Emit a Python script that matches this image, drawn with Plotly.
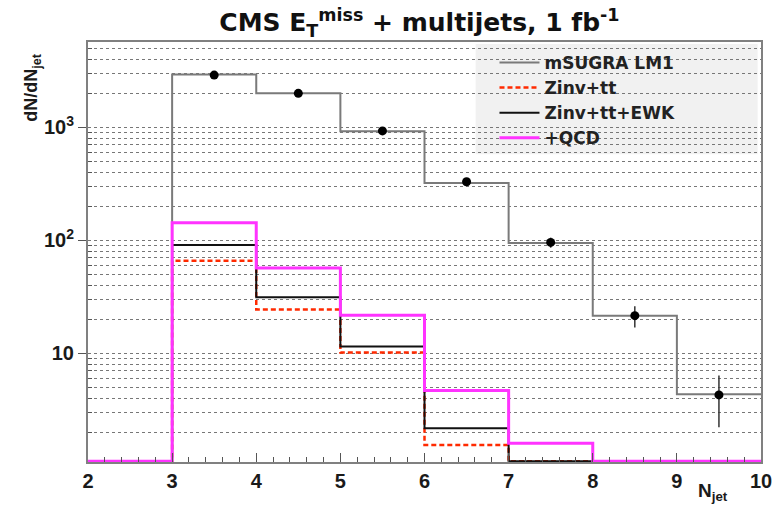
import plotly.graph_objects as go

# ---- data ----
bin_edges = [2, 3, 4, 5, 6, 7, 8, 9, 10]
bin_centers = [3.5, 4.5, 5.5, 6.5, 7.5, 8.5, 9.5]
msugra = [0, 2930, 2000, 925, 322, 95, 21.6, 4.35]
zinv_tt = [0, 66, 24.5, 10.2, 1.55, 0, 0, 0]
zinv_tt_ewk = [0, 91, 31.5, 11.5, 2.18, 0, 0, 0]
plus_qcd = [0, 143, 57, 21.8, 4.7, 1.61, 0, 0]
data_y = [2900, 2000, 930, 330, 96, 21.6, 4.3]
data_err = [54, 45, 30, 18, 9.8, 4.6, 2.07]
y_tickvals = [10, 100, 1000]
y_ticktext = ["10", "10<sup>2</sup>", "10<sup>3</sup>"]
x_tickvals = [2, 3, 4, 5, 6, 7, 8, 9, 10]

ylog_min, ylog_max = 0.04, 3.755
floor = 10 ** (ylog_min + 0.006)


def step(vals):
    v = [max(a, floor) for a in vals]
    return bin_edges, v + [v[-1]]


FONT = "Liberation Sans, Arial, Helvetica, sans-serif"
WIDE = "DejaVu Sans, Liberation Sans, sans-serif"
fig = go.Figure()

series = [
    ("mSUGRA LM1", msugra, dict(color="#7a7a7a", width=2)),
    ("Zinv+tt", zinv_tt, dict(color="#ff2a00", width=2.5, dash="5px,3px")),
    ("Zinv+tt+EWK", zinv_tt_ewk, dict(color="#111111", width=2)),
    ("+QCD", plus_qcd, dict(color="#ff33ff", width=3)),
]
for i, (name, vals, ln) in enumerate(series):
    xs, ys = step(vals)
    fig.add_trace(go.Scatter(x=xs, y=ys, mode="lines", line_shape="hv",
                             line=ln, name="<b>%s</b>" % name))
    if i == 0:
        fig.add_trace(go.Scatter(x=bin_centers, y=data_y, mode="markers",
                                 marker=dict(color="black", size=9),
                                 error_y=dict(type="data", array=data_err,
                                              color="#333", thickness=1.5, width=0),
                                 showlegend=False))

grid_minor = []
for d in [1, 10, 100, 1000]:
    for k in range(2, 10):
        grid_minor.append(k * d)

fig.update_layout(
    width=784, height=505,
    margin=dict(l=88, r=16, t=42, b=43),
    paper_bgcolor="white", plot_bgcolor="white",
    font=dict(family=FONT, color="#1a1a1a", size=18),
    title=dict(text="<b>CMS E<sub>T</sub><sup>miss</sup> + multijets, 1 fb<sup>-1</sup></b>",
               x=0.535, xanchor="center", y=0.955, yanchor="middle",
               font=dict(size=25, color="#111", family=WIDE)),
    showlegend=True,
    legend=dict(x=0.604, y=0.993, xanchor="left", yanchor="top",
                bgcolor="rgba(0,0,0,0)",
                font=dict(size=17, color="#222", family=WIDE),
                traceorder="normal", itemwidth=40),
    xaxis=dict(range=[2, 10], tickvals=x_tickvals, ticks="inside", ticklen=9,
               tickcolor="#555", showgrid=False, zeroline=False,
               showline=True, mirror=True, linecolor="#808080", linewidth=2,
               tickfont=dict(size=20, color="#1a1a1a", weight="bold"),
               minor=dict(dtick=0.2, ticks="inside", ticklen=5, tickcolor="#555")),
    yaxis=dict(type="log", range=[ylog_min, ylog_max], tickvals=y_tickvals,
               ticktext=y_ticktext, ticks="outside", ticklen=8, tickcolor="#555",
               showgrid=True, gridcolor="#777", griddash="dot", gridwidth=1,
               zeroline=False, showline=True, mirror=True,
               linecolor="#808080", linewidth=2,
               tickfont=dict(size=20, color="#1a1a1a", weight="bold"),
               minor=dict(tickvals=grid_minor, ticks="inside", ticklen=4,
                          tickcolor="#555", showgrid=True, gridcolor="#777",
                          griddash="dot", gridwidth=1)),
    shapes=[dict(type="rect", xref="paper", yref="paper", x0=0.576, x1=0.995,
                 y0=0.733, y1=0.995, fillcolor="#f1f1f1", line=dict(width=0),
                 layer="below")],
    annotations=[
        dict(text="<b>dN/dN<sub>jet</sub></b>", xref="paper", yref="paper", x=-0.082,
             y=0.893, xanchor="center", yanchor="middle", textangle=-90,
             showarrow=False, font=dict(size=18, color="#1a1a1a")),
        dict(text="<b>N<sub>jet</sub></b>", xref="paper", yref="paper", x=0.929,
             y=-0.071, xanchor="center", yanchor="middle",
             showarrow=False, font=dict(size=19, color="#1a1a1a")),
    ],
)

fig.write_html("out.html")
